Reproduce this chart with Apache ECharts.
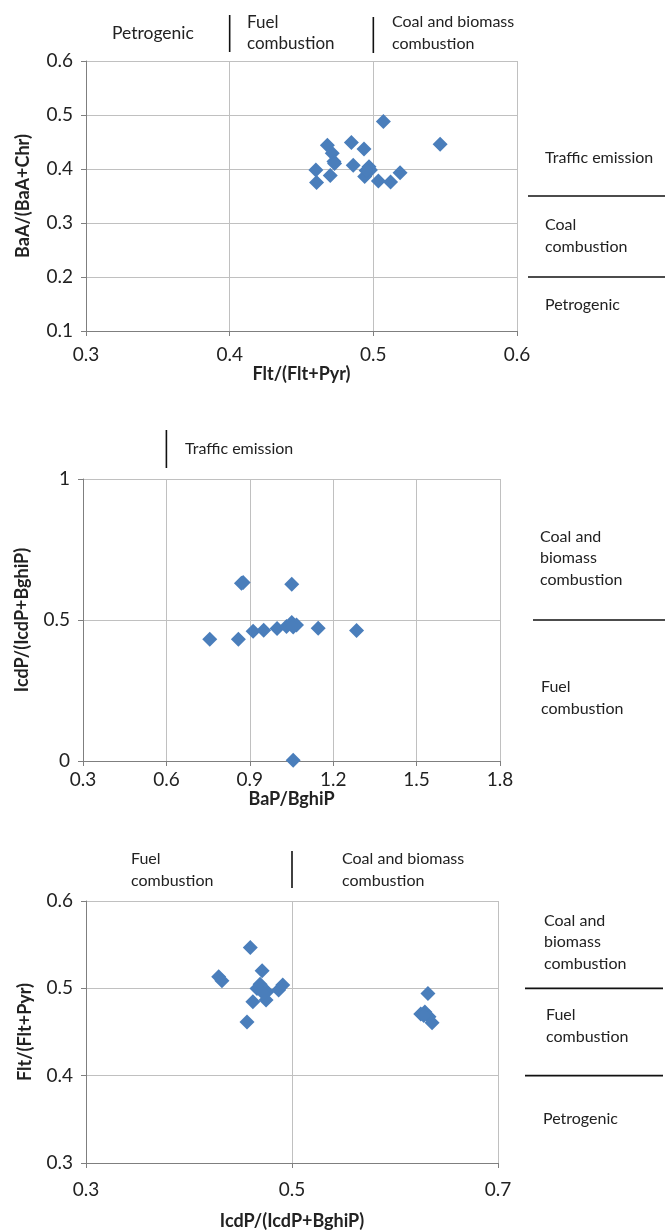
<!DOCTYPE html>
<html>
<head>
<meta charset="utf-8">
<script src="https://cdn.jsdelivr.net/npm/echarts@6/dist/echarts.min.js"></script>
<style>
html,body{margin:0;padding:0;background:#fff;}
#c{width:665px;height:1232px;}
</style>
</head>
<body>
<div id="c"></div>
<script>
// Chart 1: Flt/(Flt+Pyr) vs BaA/(BaA+Chr)
const c1X = [0.507, 0.5465, 0.468, 0.4847, 0.4935, 0.4714, 0.4726, 0.473, 0.460, 0.4605, 0.470, 0.486, 0.497, 0.498, 0.494, 0.5035, 0.512, 0.5186, 0.495];
const c1Y = [0.488, 0.446, 0.444, 0.449, 0.437, 0.429, 0.414, 0.410, 0.398, 0.375, 0.388, 0.407, 0.404, 0.398, 0.386, 0.378, 0.376, 0.393, 0.397];
// Chart 2: BaP/BghiP vs IcdP/(IcdP+BghiP)
const c2X = [0.876, 0.870, 1.051, 0.756, 0.859, 0.912, 0.950, 0.998, 1.032, 1.051, 1.068, 1.056, 1.146, 1.284, 1.056];
const c2Y = [0.633, 0.630, 0.627, 0.432, 0.432, 0.460, 0.464, 0.470, 0.477, 0.491, 0.482, 0.475, 0.471, 0.463, 0.003];
// Chart 3: IcdP/(IcdP+BghiP) vs Flt/(Flt+Pyr)
const c3X = [0.4595, 0.4288, 0.432, 0.471, 0.4563, 0.462, 0.466, 0.469, 0.4757, 0.4748, 0.487, 0.491, 0.4725, 0.632, 0.625, 0.629, 0.633, 0.636, 0.628];
const c3Y = [0.5467, 0.5132, 0.5086, 0.520, 0.4614, 0.4847, 0.4999, 0.5048, 0.496, 0.4866, 0.498, 0.5037, 0.494, 0.494, 0.4706, 0.473, 0.4675, 0.4607, 0.469];

const xTicks1 = [0.3, 0.4, 0.5, 0.6];
const yTicks1 = [0.1, 0.2, 0.3, 0.4, 0.5, 0.6];
const xTicks2 = [0.3, 0.6, 0.9, 1.2, 1.5, 1.8];
const yTicks2 = [0, 0.5, 1];
const xTicks3 = [0.3, 0.5, 0.7];
const yTicks3 = [0.3, 0.4, 0.5, 0.6];

const axisTitles = {
  x1: 'Flt/(Flt+Pyr)', y1: 'BaA/(BaA+Chr)',
  x2: 'BaP/BghiP', y2: 'IcdP/(IcdP+BghiP)',
  x3: 'IcdP/(IcdP+BghiP)', y3: 'Flt/(Flt+Pyr)'
};

const FONT = 'Lato, "Open Sans", sans-serif';
const MARK = '#4a7ebb';

function zip(a, b) { return a.map((v, i) => [v, b[i]]); }

function axisBase(idx, ticks, name, gap, margin) {
  const step = +(ticks[1] - ticks[0]).toFixed(6);
  return {
    type: 'value', gridIndex: idx, min: ticks[0], max: ticks[ticks.length - 1], interval: step,
    name: name, nameLocation: 'middle', nameGap: gap,
    nameTextStyle: { fontFamily: FONT, fontWeight: 'bold', fontSize: 18, color: '#222' },
    axisLine: { show: true, onZero: false, lineStyle: { color: '#7f7f7f', width: 1 } },
    axisTick: { show: true, length: 5, lineStyle: { color: '#7f7f7f' } },
    axisLabel: { fontFamily: FONT, fontSize: 19, color: '#222', margin: margin,
      formatter: v => String(+v.toFixed(2)) },
    splitLine: { show: true, lineStyle: { color: '#c0c0c0', width: 1 } }
  };
}

const chart = echarts.init(document.getElementById('c'), null, { renderer: 'canvas' });

const grids = [
  { left: 86, top: 61, width: 431, height: 270 },
  { left: 83, top: 479, width: 417, height: 282 },
  { left: 86, top: 901, width: 412, height: 262 }
];

function sc(idx, x, y) {
  return {
    type: 'scatter', xAxisIndex: idx, yAxisIndex: idx, data: zip(x, y),
    symbol: 'diamond', symbolSize: 15,
    itemStyle: { color: MARK, opacity: 1 },
    silent: true, animation: false
  };
}

chart.setOption({
  animation: false,
  backgroundColor: '#fff',
  grid: grids,
  xAxis: [axisBase(0, xTicks1, axisTitles.x1, 27, 14), axisBase(1, xTicks2, axisTitles.x2, 25, 9), axisBase(2, xTicks3, axisTitles.x3, 49, 17)],
  yAxis: [axisBase(0, yTicks1, axisTitles.y1, 54, 13), axisBase(1, yTicks2, axisTitles.y2, 52, 13), axisBase(2, yTicks3, axisTitles.y3, 52, 13)],
  series: [sc(0, c1X, c1Y), sc(1, c2X, c2Y), sc(2, c3X, c3Y)]
});

// Annotation graphics
function txt(x, y, text, size) {
  return { type: 'text', silent: true, style: { x: x, y: y, text: text, font: (size || 16) + 'px ' + FONT, fill: '#222', textAlign: 'left', textVerticalAlign: 'middle', align: 'left', verticalAlign: 'middle', lineHeight: 21.5 } };
}
function ln(x1, y1, x2, y2, w) {
  return { type: 'line', silent: true, shape: { x1: x1, y1: y1, x2: x2, y2: y2 }, style: { stroke: '#111', lineWidth: w || 1.6 } };
}
function px(g, x, y) { return chart.convertToPixel({ gridIndex: g }, [x, y]); }

const g = [];
// Chart 1 header
const v04 = px(0, 0.4, 0.6)[0], v05 = px(0, 0.5, 0.6)[0];
g.push(txt(112, 33, 'Petrogenic', 17.5));
g.push(ln(v04, 15, v04, 52));
g.push(txt(247, 33, 'Fuel\ncombustion', 17));
g.push(ln(v05, 17, v05, 53));
g.push(txt(392, 33, 'Coal and biomass\ncombustion', 16));
// Chart 1 right side
const h035 = px(0, 0.6, 0.35)[1], h02 = px(0, 0.6, 0.2)[1];
g.push(txt(545, 158, 'Traffic emission'));
g.push(ln(528, h035, 665, h035));
g.push(txt(545, 236, 'Coal\ncombustion'));
g.push(ln(528, h02, 665, h02));
g.push(txt(545, 305, 'Petrogenic'));
// Chart 2 header
const v06 = px(1, 0.6, 1)[0];
g.push(ln(v06, 430, v06, 468));
g.push(txt(185, 449, 'Traffic emission'));
// Chart 2 right side
const h205 = px(1, 1.8, 0.5)[1];
g.push(txt(540, 558, 'Coal and\nbiomass\ncombustion'));
g.push(ln(533, h205, 665, h205));
g.push(txt(541, 698, 'Fuel\ncombustion'));
// Chart 3 header
const v305 = px(2, 0.5, 0.6)[0];
g.push(txt(131, 870, 'Fuel\ncombustion'));
g.push(ln(v305, 851, v305, 888));
g.push(txt(342, 870, 'Coal and biomass\ncombustion'));
// Chart 3 right side
const h305 = px(2, 0.7, 0.5)[1], h304 = px(2, 0.7, 0.4)[1];
g.push(txt(544, 942, 'Coal and\nbiomass\ncombustion'));
g.push(ln(525, h305, 663, h305));
g.push(txt(546, 1026, 'Fuel\ncombustion'));
g.push(ln(525, h304, 663, h304));
g.push(txt(543, 1119, 'Petrogenic'));

chart.setOption({ graphic: { elements: g } });
</script>
</body>
</html>
